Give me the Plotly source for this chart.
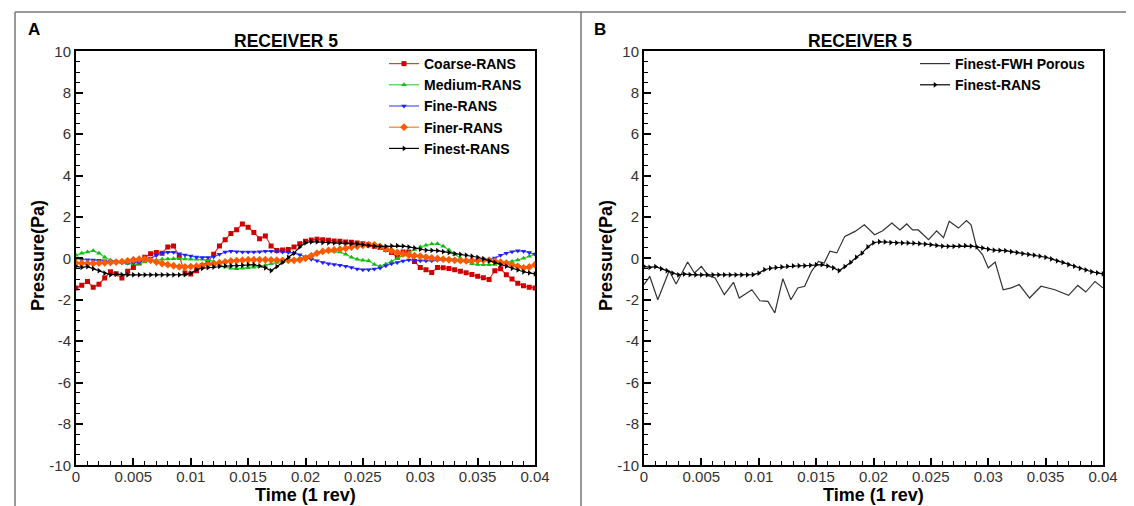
import numpy as np
import plotly.graph_objects as go

W, H = 1134, 506

# sample times of the RANS series (s)
time = np.linspace(0, 0.04, 81)

coarse = [-1.43, -1.30, -1.12, -1.40, -1.25, -0.95, -0.65, -0.75, -0.95, -0.63,
          -0.45, -0.23, 0.05, 0.22, 0.28, 0.25, 0.55, 0.60, 0.10, -0.71,
          -0.76, -0.60, -0.35, -0.18, 0.20, 0.60, 0.90, 1.20, 1.38, 1.66,
          1.50, 1.25, 0.95, 1.08, 0.60, 0.38, 0.40, 0.42, 0.55, 0.70,
          0.82, 0.88, 0.92, 0.90, 0.87, 0.84, 0.82, 0.79, 0.77, 0.74,
          0.70, 0.65, 0.58, 0.52, 0.42, 0.28, 0.05, 0.30, 0.30, -0.15,
          -0.45, -0.55, -0.68, -0.45, -0.46, -0.49, -0.55, -0.62, -0.70, -0.78,
          -0.87, -0.94, -1.02, -0.60, -0.50, -0.80, -1.00, -1.20, -1.33, -1.40,
          -1.43]

medium = [0.15, 0.25, 0.30, 0.36, 0.25, 0.05, -0.08, -0.15, -0.20, -0.25,
          -0.28, -0.25, -0.18, -0.12, -0.08, -0.05, -0.03, -0.02, -0.02, -0.03,
          -0.05, -0.05, -0.05, -0.07, -0.15, -0.31, -0.42, -0.48, -0.50, -0.48,
          -0.46, -0.43, -0.39, -0.33, -0.26, -0.20, -0.16, -0.12, -0.06, 0.00,
          0.08, 0.17, 0.28, 0.34, 0.35, 0.34, 0.30, 0.20, 0.05, -0.05,
          -0.10, -0.12, -0.30, -0.38, -0.28, -0.15, 0.00, 0.15, 0.27, 0.42,
          0.55, 0.63, 0.69, 0.70, 0.58, 0.40, 0.20, 0.00, -0.15, -0.26,
          -0.30, -0.31, -0.31, -0.30, -0.25, -0.20, -0.15, -0.08, 0.00, 0.10,
          0.20]

fine = [0.00, -0.06, -0.07, -0.08, -0.10, -0.12, -0.15, -0.18, -0.22, -0.23,
        -0.22, -0.18, -0.10, 0.00, 0.14, 0.25, 0.29, 0.29, 0.22, 0.16,
        0.11, 0.06, 0.04, 0.04, 0.08, 0.20, 0.30, 0.34, 0.32, 0.30,
        0.30, 0.30, 0.32, 0.34, 0.34, 0.33, 0.31, 0.29, 0.25, 0.17,
        0.06, -0.04, -0.12, -0.20, -0.26, -0.30, -0.33, -0.38, -0.44, -0.52,
        -0.55, -0.55, -0.52, -0.47, -0.36, -0.26, -0.20, -0.13, -0.08, -0.10,
        -0.12, -0.12, -0.12, -0.10, -0.07, -0.07, -0.07, -0.09, -0.12, -0.14,
        -0.15, -0.12, -0.07, 0.02, 0.15, 0.25, 0.32, 0.36, 0.34, 0.28,
        0.20]

finer = [-0.23, -0.24, -0.25, -0.25, -0.23, -0.22, -0.20, -0.18, -0.16, -0.12,
         -0.07, -0.04, -0.04, -0.10, -0.18, -0.25, -0.31, -0.36, -0.41, -0.42,
         -0.40, -0.38, -0.34, -0.31, -0.27, -0.21, -0.17, -0.13, -0.11, -0.09,
         -0.07, -0.07, -0.07, -0.07, -0.08, -0.09, -0.10, -0.10, -0.10, -0.07,
         0.00, 0.12, 0.25, 0.33, 0.38, 0.40, 0.44, 0.48, 0.54, 0.58,
         0.63, 0.66, 0.65, 0.57, 0.45, 0.36, 0.28, 0.21, 0.16, 0.13,
         0.10, 0.06, 0.02, -0.01, -0.04, -0.07, -0.10, -0.11, -0.12, -0.11,
         -0.10, -0.08, -0.09, -0.14, -0.19, -0.23, -0.32, -0.39, -0.46, -0.42,
         -0.31]

finest = [-0.39, -0.44, -0.40, -0.50, -0.60, -0.72, -0.80, -0.76, -0.79, -0.80,
          -0.80, -0.80, -0.80, -0.80, -0.80, -0.80, -0.80, -0.80, -0.80, -0.79,
          -0.72, -0.55, -0.48, -0.45, -0.42, -0.39, -0.37, -0.36, -0.36, -0.34,
          -0.31, -0.31, -0.37, -0.46, -0.60, -0.40, -0.20, 0.05, 0.25, 0.55,
          0.75, 0.80, 0.79, 0.76, 0.75, 0.74, 0.74, 0.73, 0.71, 0.69,
          0.66, 0.62, 0.59, 0.58, 0.58, 0.60, 0.61, 0.59, 0.55, 0.50,
          0.44, 0.39, 0.38, 0.37, 0.32, 0.28, 0.23, 0.19, 0.15, 0.10,
          0.05, -0.03, -0.12, -0.20, -0.30, -0.38, -0.48, -0.56, -0.65, -0.70,
          -0.75]

# FW-H porous surface signal (panel B)
fwh_time = [0.0, 0.0005, 0.0012, 0.0022, 0.0028, 0.0038, 0.0044, 0.005, 0.0056, 0.0062,
            0.007, 0.0078, 0.0083, 0.0094, 0.0101, 0.0108, 0.0114, 0.0121, 0.0128, 0.0134,
            0.014, 0.0146, 0.0152, 0.0157, 0.0162, 0.0168, 0.0175, 0.0184, 0.0192, 0.0201,
            0.0208, 0.0216, 0.0223, 0.0229, 0.0234, 0.0239, 0.0248, 0.0255, 0.0261, 0.0266,
            0.0274, 0.0281, 0.0285, 0.029, 0.0295, 0.03, 0.0306, 0.0313, 0.032, 0.0327,
            0.0336, 0.0346, 0.0358, 0.037, 0.0378, 0.0385, 0.0393, 0.04]
fwh_pressure = [-1.27, -0.87, -2.0, -0.6, -1.24, -0.18, -0.71, -0.39, -0.84, -0.95,
                -1.76, -1.16, -1.92, -1.52, -2.05, -2.08, -2.64, -0.98, -2.0, -1.43,
                -1.35, -0.63, -0.15, -0.23, 0.34, 0.26, 1.06, 1.3, 1.62, 1.14,
                1.33, 1.7, 1.37, 1.66, 1.37, 1.37, 0.9, 1.33, 1.0, 1.79,
                1.46, 1.82, 1.62, 0.5, 0.18, -0.47, -0.18, -1.52, -1.43, -1.27,
                -1.92, -1.35, -1.52, -1.79, -1.31, -1.63, -1.12, -1.43]

x_ticks = [0, 0.005, 0.01, 0.015, 0.02, 0.025, 0.03, 0.035, 0.04]
x_tick_labels = ["0", "0.005", "0.01", "0.015", "0.02", "0.025", "0.03", "0.035", "0.04"]
y_ticks = [-10, -8, -6, -4, -2, 0, 2, 4, 6, 8, 10]
y_tick_labels = ["-10", "-8", "-6", "-4", "-2", "0", "2", "4", "6", "8", "10"]

FONT = "Liberation Sans, Arial, sans-serif"

fig = go.Figure()

series_a = [
    ("Coarse-RANS", coarse, "#d00000", "#e03a3a", "square", 5),
    ("Medium-RANS", medium, "#10c010", "#40d040", "triangle-up", 5),
    ("Fine-RANS", fine, "#2020ff", "#5050ff", "triangle-down", 5),
    ("Finer-RANS", finer, "#ff5a00", "#ff7a30", "diamond", 6),
    ("Finest-RANS", finest, "#000000", "#000000", "triangle-right", 5),
]
for name, vals, mcol, lcol, sym, size in series_a:
    fig.add_trace(go.Scatter(x=time, y=vals, name=name, mode="lines+markers",
                             line=dict(color=lcol, width=1.2),
                             marker=dict(symbol=sym, size=size, color=mcol),
                             xaxis="x", yaxis="y", legend="legend"))

fig.add_trace(go.Scatter(x=fwh_time, y=fwh_pressure, name="Finest-FWH Porous", mode="lines",
                         line=dict(color="#333333", width=1.2),
                         xaxis="x2", yaxis="y2", legend="legend2"))
fig.add_trace(go.Scatter(x=time, y=finest, name="Finest-RANS", mode="lines+markers",
                         line=dict(color="#000000", width=1.2),
                         marker=dict(symbol="triangle-right", size=5, color="#000000"),
                         xaxis="x2", yaxis="y2", legend="legend2"))


def x_axis(left, right, anchor):
    return dict(domain=[left / W, right / W], anchor=anchor, range=[0, 0.04],
                tickmode="array", tickvals=x_ticks, ticktext=x_tick_labels,
                ticks="inside", ticklen=7, tickwidth=2, tickcolor="black",
                minor=dict(dtick=0.001, tick0=0, ticks="inside", ticklen=4, tickwidth=1, tickcolor="black"),
                showline=True, linecolor="black", linewidth=2, mirror=True,
                showgrid=False, zeroline=False, automargin=False, ticklabelstandoff=-3,
                tickfont=dict(family=FONT, size=15, color="#333333"))


def y_axis(anchor):
    return dict(domain=[1 - 457.3 / H, 1 - 43.3 / H], anchor=anchor, range=[-10, 10],
                tickmode="array", tickvals=y_ticks, ticktext=y_tick_labels,
                ticks="inside", ticklen=7, tickwidth=2, tickcolor="black",
                minor=dict(dtick=0.5, tick0=0, ticks="inside", ticklen=4, tickwidth=1, tickcolor="black"),
                showline=True, linecolor="black", linewidth=2, mirror=True,
                showgrid=False, zeroline=False, automargin=False,
                tickfont=dict(family=FONT, size=15, color="#333333"))


legend_style = dict(xanchor="left", yanchor="top", bgcolor="rgba(0,0,0,0)",
                    font=dict(family=FONT, size=14, color="black", weight="bold"),
                    tracegroupgap=0, itemwidth=30)


def label(text, x, y, size, angle=0, anchor="center"):
    return dict(text=text, x=x / W, y=1 - y / H, xref="paper", yref="paper",
                showarrow=False, xanchor=anchor, yanchor="middle", textangle=angle,
                font=dict(family=FONT, size=size, color="black", weight="bold"))


annotations = [
    label("A", 18, 22, 17, anchor="left"),
    label("B", 584, 22, 17, anchor="left"),
    label("RECEIVER 5", 278, 33, 17.5),
    label("RECEIVER 5", 852, 33, 17.5),
    label("Time (1 rev)", 297.5, 487, 18),
    label("Time (1 rev)", 865.5, 487, 18),
    label("Pressure(Pa)", 30, 248, 18, angle=-90),
    label("Pressure(Pa)", 598, 248, 18, angle=-90),
]

frame = dict(color="#777777", width=1.5)
shapes = [
    dict(type="line", xref="paper", yref="paper", x0=7 / W, x1=1, y0=1 - 4 / H, y1=1 - 4 / H, line=frame),
    dict(type="line", xref="paper", yref="paper", x0=7 / W, x1=7 / W, y0=0, y1=1 - 4 / H, line=frame),
    dict(type="line", xref="paper", yref="paper", x0=573 / W, x1=573 / W, y0=0, y1=1 - 4 / H, line=frame),
]

fig.update_layout(
    width=W, height=H,
    margin=dict(l=0, r=0, t=0, b=0),
    paper_bgcolor="white", plot_bgcolor="white",
    xaxis=x_axis(68, 527, "y"), yaxis=y_axis("x"),
    xaxis2=x_axis(636, 1095, "y2"), yaxis2=y_axis("x2"),
    legend=dict(x=376 / W, y=1 - 40 / H, **legend_style),
    legend2=dict(x=907 / W, y=1 - 40 / H, **legend_style),
    annotations=annotations,
    shapes=shapes,
    font=dict(family=FONT),
)

fig.write_html("out.html")
